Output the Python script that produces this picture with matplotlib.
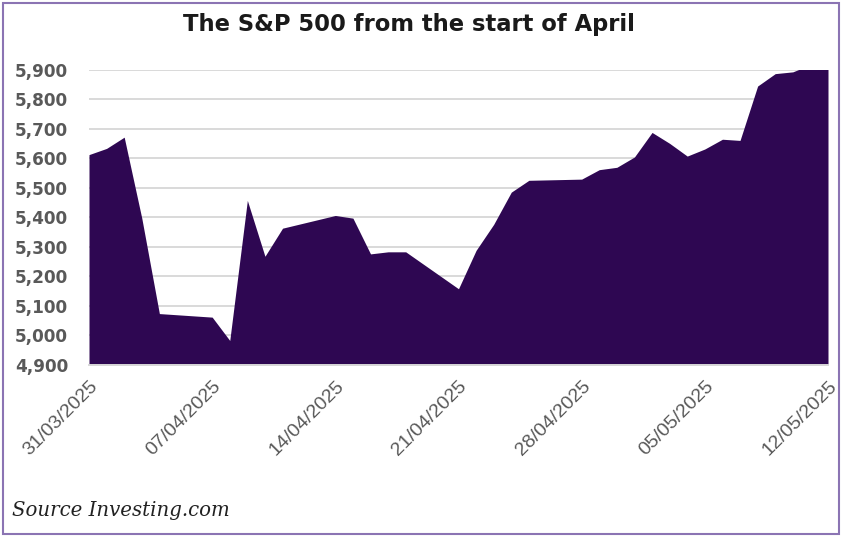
import matplotlib
matplotlib.use("Agg")
import matplotlib.pyplot as plt
import matplotlib.dates as mdates
from matplotlib.patches import Rectangle
from matplotlib.ticker import FuncFormatter, MultipleLocator
import numpy as np
import pandas as pd

# Data (positions on the chart's date axis)
dates = ['2025-03-31', '2025-04-01', '2025-04-02', '2025-04-03', '2025-04-04',
         '2025-04-07', '2025-04-08', '2025-04-09', '2025-04-10', '2025-04-11',
         '2025-04-14', '2025-04-15', '2025-04-16', '2025-04-17', '2025-04-18',
         '2025-04-21', '2025-04-22', '2025-04-23', '2025-04-24', '2025-04-25',
         '2025-04-28', '2025-04-29', '2025-04-30', '2025-05-01', '2025-05-02',
         '2025-05-03', '2025-05-04', '2025-05-05', '2025-05-06', '2025-05-07',
         '2025-05-08', '2025-05-09', '2025-05-10', '2025-05-11', '2025-05-12']
values = [5612, 5633, 5671, 5397, 5074,
          5062, 4983, 5457, 5268, 5363,
          5406, 5397, 5276, 5283, 5283,
          5158, 5288, 5376, 5485, 5525,
          5529, 5561, 5569, 5604, 5687,
          5650, 5607, 5631, 5664, 5660,
          5844, 5886, 5892, 5916, 5958]
tick_dates = ['2025-03-31', '2025-04-07', '2025-04-14', '2025-04-21',
              '2025-04-28', '2025-05-05', '2025-05-12']
title = "The S&P 500 from the start of April"
source = "Source Investing.com"

x = pd.to_datetime(dates)
ticks = pd.to_datetime(tick_dates)

W, H = 841, 536
fig = plt.figure(figsize=(W / 100, H / 100), dpi=100)
fig.patch.set_facecolor("white")

ax = fig.add_axes([89 / W, 1 - 365 / H, (828 - 89) / W, (365 - 69.5) / H])
ax.set_facecolor("white")

ax.fill_between(x, 4900, values, color="#2e0752", linewidth=0, zorder=3)

ax.set_ylim(4900, 5900)
ax.set_xlim(ticks[0], ticks[-1])
ax.yaxis.set_major_locator(MultipleLocator(100))
ax.yaxis.set_major_formatter(FuncFormatter(lambda v, p: f"{int(round(v)):,}"))
ax.grid(axis="y", color="#d9d9d9", linewidth=1.4, zorder=1)
ax.set_axisbelow(True)
for s in ["left", "right", "top"]:
    ax.spines[s].set_visible(False)
ax.spines["bottom"].set_color("#d9d9d9")
ax.spines["bottom"].set_linewidth(1.4)
ax.spines["bottom"].set_zorder(4)

ax.set_xticks(ticks)
ax.set_xticklabels([d.strftime("%d/%m/%Y") for d in ticks], rotation=45,
                   ha="right", va="top", rotation_mode="anchor",
                   fontsize=14, color="#595959", family="Liberation Sans")
ax.tick_params(axis="x", length=0, pad=9)
ax.tick_params(axis="y", length=0, pad=15)
for lbl in ax.get_yticklabels():
    lbl.set_fontsize(12.2)
    lbl.set_fontweight("bold")
    lbl.set_color("#595959")
    lbl.set_family("DejaVu Sans")

fig.text(409 / W, 1 - 25 / H, title, ha="center", va="center",
         fontsize=16.3, fontweight="bold", color="#1a1a1a", family="DejaVu Sans")
fig.text(12 / W, 1 - 511 / H, source, ha="left", va="center",
         fontsize=14.2, style="italic", color="#222222", family="DejaVu Serif")

fig.patches.append(Rectangle((3 / W, 2.5 / H), 835.5 / W, 531 / H,
                             transform=fig.transFigure, fill=False,
                             edgecolor="#8b74b3", linewidth=1.5))

fig.savefig("out.png", dpi=100)
